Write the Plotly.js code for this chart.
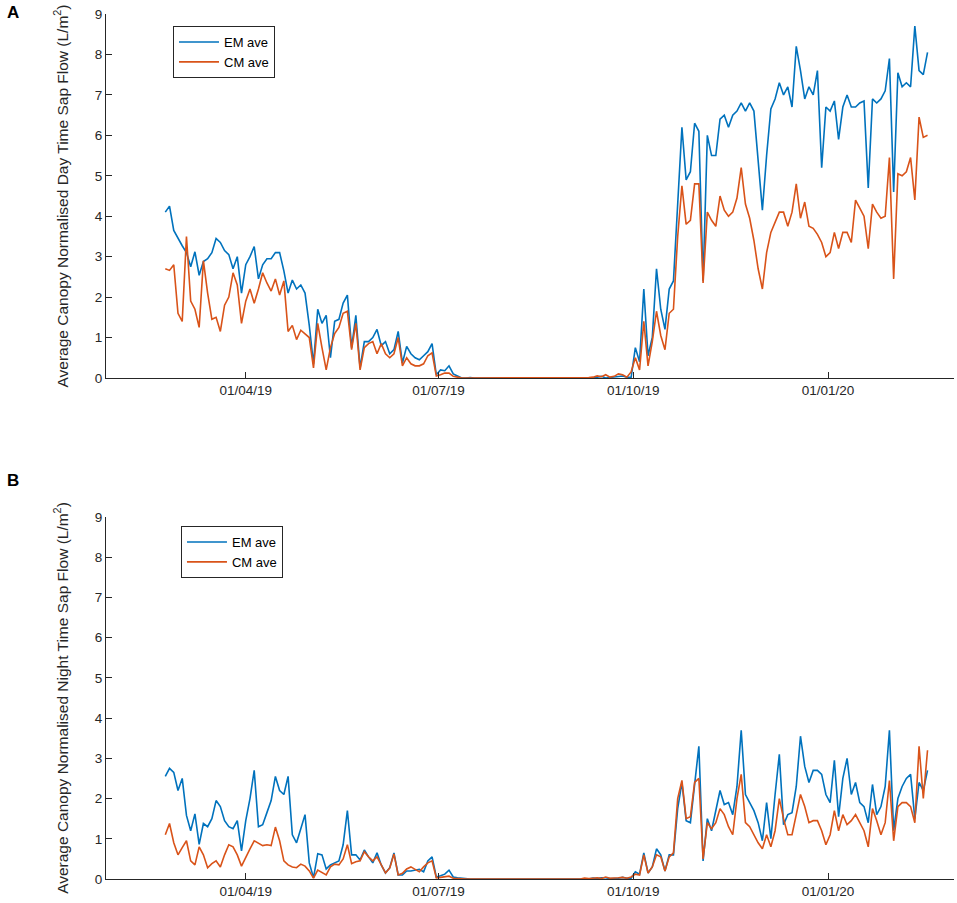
<!DOCTYPE html>
<html>
<head>
<meta charset="utf-8">
<script src="https://cdn.plot.ly/plotly-3.0.1.min.js"></script>
<style>
  html, body { margin: 0; padding: 0; background: #fff; }
  #chart { width: 957px; height: 903px; }
</style>
</head>
<body>
<div id="chart"></div>
<script>
/* Canopy normalised sap flow, EM vs CM averages.
 * One reading every second day from 22/02/19 to 17/02/20.
 * Panel A is day time, panel B night time.
 */

const START_DATE = "2019-02-22";
const STEP_DAYS = 2;

const TICK_DATES = ["2019-04-01", "2019-07-01", "2019-10-01", "2020-01-01"];
const TICK_LABELS = ["01/04/19", "01/07/19", "01/10/19", "01/01/20"];

// --- panel A, day time (L/m2) ---
const dayEM = [
  4.1, 4.25, 3.65, 3.45, 3.27, 3.1, 2.75, 3.12, 2.54, 2.88,
  2.95, 3.1, 3.45, 3.35, 3.15, 3.05, 2.7, 3.0, 2.1, 2.8,
  3.0, 3.25, 2.45, 2.8, 2.95, 2.95, 3.1, 3.1, 2.65, 2.1,
  2.42, 2.2, 2.3, 2.1, 1.3, 0.35, 1.7, 1.35, 1.55, 0.5,
  1.4, 1.45, 1.85, 2.05, 0.75, 1.55, 0.25, 0.9, 0.9, 1.0,
  1.2, 0.8, 0.9, 0.6, 0.7, 1.15, 0.37, 0.78, 0.6, 0.5,
  0.45, 0.55, 0.65, 0.85, 0.08, 0.2, 0.18, 0.3, 0.1, 0.05,
  0, 0, 0.01, 0, 0, 0, 0, 0.01, 0, 0,
  0, 0, 0, 0, 0.01, 0, 0, 0, 0, 0,
  0, 0, 0.01, 0, 0, 0, 0, 0, 0, 0.01,
  0, 0, 0.02, 0.04, 0, 0.01, 0.02, 0.03, 0.05, 0.02,
  0.01, 0.75, 0.4, 2.2, 0.55, 1.0, 2.7, 1.7, 1.2, 2.2,
  2.4, 4.3, 6.2, 4.9, 5.1, 6.3, 6.1, 2.4, 6.0, 5.5,
  5.5, 6.4, 6.5, 6.2, 6.5, 6.6, 6.8, 6.6, 6.8, 6.6,
  5.3, 4.15, 5.5, 6.65, 6.9, 7.3, 7.0, 7.2, 6.7, 8.2,
  7.6, 6.9, 7.2, 7.0, 7.6, 5.2, 6.7, 6.6, 6.85, 5.9,
  6.7, 7.0, 6.7, 6.7, 6.8, 6.85, 4.7, 6.9, 6.8, 6.9,
  7.1, 7.9, 4.6, 7.55, 7.2, 7.3, 7.2, 8.7, 7.6, 7.5,
  8.05
];
const dayCM = [
  2.7, 2.66, 2.8, 1.6, 1.4, 3.5, 1.9, 1.7, 1.25, 2.9,
  2.1, 1.45, 1.5, 1.15, 1.8, 2.0, 2.6, 2.3, 1.35, 1.9,
  2.2, 1.85, 2.2, 2.6, 2.35, 2.15, 2.45, 2.05, 2.4, 1.15,
  1.3, 0.95, 1.18, 1.1, 1.0, 0.25, 1.35, 0.75, 0.2, 0.75,
  1.1, 1.25, 1.6, 1.65, 0.7, 1.35, 0.2, 0.75, 0.85, 0.9,
  0.6, 0.85, 0.6, 0.5, 0.6, 1.0, 0.3, 0.5, 0.35, 0.3,
  0.3, 0.35, 0.55, 0.62, 0.05, 0.08, 0.12, 0.12, 0.04, 0.02,
  0, 0, 0, 0, 0.01, 0, 0, 0, 0, 0,
  0, 0, 0, 0, 0, 0, 0.01, 0, 0, 0,
  0, 0, 0, 0, 0, 0.01, 0, 0, 0, 0,
  0.01, 0.02, 0.05, 0.03, 0.08, 0.02, 0.04, 0.1, 0.08, 0.02,
  0.15, 0.5, 0.2, 1.4, 0.3, 0.9, 1.65, 1.05, 0.7, 1.6,
  1.7, 3.5, 4.75, 3.8, 3.9, 4.8, 4.8, 2.35, 4.1, 3.9,
  3.75, 4.5, 4.15, 4.0, 4.1, 4.45, 5.2, 4.3, 3.95, 3.4,
  2.7, 2.2, 3.1, 3.6, 3.85, 4.1, 4.1, 3.75, 4.1, 4.8,
  3.95, 4.35, 3.75, 3.7, 3.55, 3.35, 3.0, 3.1, 3.6, 3.2,
  3.6, 3.6, 3.35, 4.4, 4.2, 4.0, 3.2, 4.3, 4.1, 3.95,
  4.0, 5.45, 2.45, 5.05, 5.0, 5.1, 5.45, 4.4, 6.45, 5.95,
  6.0
];

// --- panel B, night time (L/m2) ---
const nightEM = [
  2.55, 2.75, 2.65, 2.2, 2.5, 1.58, 1.2, 1.62, 0.86, 1.38,
  1.3, 1.5, 1.95, 1.8, 1.45, 1.3, 1.25, 1.45, 0.7, 1.45,
  2.0, 2.7, 1.3, 1.35, 1.65, 1.95, 2.55, 2.2, 2.1, 2.55,
  1.1, 0.9, 1.25, 1.6, 0.4, 0.03, 0.63, 0.6, 0.25, 0.35,
  0.4, 0.45, 0.85, 1.7, 0.6, 0.6, 0.47, 0.72, 0.55, 0.4,
  0.65, 0.35, 0.15, 0.28, 0.65, 0.1, 0.1, 0.2, 0.2, 0.22,
  0.24, 0.18, 0.45, 0.55, 0.05, 0.08, 0.12, 0.22, 0.05, 0.03,
  0.02, 0, 0, 0, 0, 0.01, 0, 0, 0, 0,
  0, 0, 0, 0, 0, 0, 0, 0, 0, 0.01,
  0, 0, 0, 0, 0, 0, 0, 0, 0, 0.01,
  0, 0.02, 0.01, 0.03, 0.03, 0.01, 0.01, 0.02, 0.04, 0.02,
  0.02, 0.18, 0.12, 0.65, 0.15, 0.3, 0.75, 0.6, 0.2, 0.6,
  0.6, 1.75, 2.4, 1.45, 1.4, 2.42, 3.3, 0.45, 1.5, 1.2,
  1.75, 2.2, 1.85, 1.9, 1.6, 2.3, 3.7, 2.1, 1.9, 1.7,
  1.4, 0.95, 1.9, 1.0, 2.1, 3.1, 1.35, 1.6, 1.65, 2.3,
  3.55, 2.8, 2.4, 2.7, 2.7, 2.6, 2.1, 1.9, 2.95, 1.55,
  2.5, 3.0, 2.1, 2.4, 1.9, 1.8, 1.4, 2.35, 1.6, 1.8,
  2.3, 3.7, 1.2, 2.0, 2.3, 2.5, 2.6, 1.5, 2.4, 2.2,
  2.7
];
const nightCM = [
  1.1, 1.38, 0.9, 0.6, 0.78, 0.95, 0.45, 0.35, 0.8, 0.6,
  0.28, 0.38, 0.45, 0.3, 0.6, 0.85, 0.8, 0.6, 0.32, 0.55,
  0.75, 0.95, 0.88, 0.83, 0.85, 0.83, 1.29, 0.95, 0.45, 0.35,
  0.3, 0.28, 0.37, 0.32, 0.2, 0.02, 0.22, 0.15, 0.1, 0.3,
  0.37, 0.35, 0.5, 0.85, 0.38, 0.43, 0.45, 0.68, 0.55, 0.45,
  0.55, 0.35, 0.15, 0.27, 0.62, 0.1, 0.14, 0.25, 0.3, 0.24,
  0.18, 0.3, 0.4, 0.45, 0.03, 0.04, 0.06, 0.07, 0.02, 0.01,
  0, 0, 0, 0, 0, 0, 0, 0, 0, 0,
  0, 0, 0, 0, 0, 0, 0, 0, 0, 0,
  0, 0, 0, 0, 0, 0, 0, 0, 0, 0.02,
  0.01, 0.02, 0.03, 0.01, 0.05, 0.02, 0.02, 0.03, 0.04, 0.02,
  0.05, 0.12, 0.1, 0.6, 0.15, 0.3, 0.6, 0.55, 0.2, 0.55,
  0.65, 2.0, 2.45, 1.5, 1.55, 2.4, 2.5, 0.5, 1.4, 1.25,
  1.4, 1.75, 1.6, 1.3, 1.1, 2.0, 2.6, 1.4, 1.3, 1.1,
  0.9, 0.75, 1.1, 0.8, 1.2, 2.0, 1.5, 1.1, 1.1, 1.6,
  2.1, 1.8, 1.4, 1.45, 1.45, 1.2, 0.85, 1.1, 1.7, 1.2,
  1.6, 1.35, 1.45, 1.6, 1.4, 1.2, 0.8, 1.75, 1.45, 1.1,
  1.4, 2.45, 0.95, 1.8, 1.9, 1.9, 1.8, 1.4, 3.3, 2.0,
  3.2
];

(function () {
  "use strict";

  const EM_BLUE = "#0072BD";
  const CM_RED = "#D95319";
  const INK = "#262626";
  const FONT = "Liberation Sans, Arial, Helvetica, sans-serif";

  // every second day from the first reading
  const DAY_MS = 24 * 60 * 60 * 1000;
  const t0 = new Date(START_DATE + "T00:00:00Z").getTime();
  const dates = dayEM.map((_, i) =>
    new Date(t0 + i * STEP_DAYS * DAY_MS).toISOString().slice(0, 10)
  );

  function line(y, name, color, xa, ya, legend) {
    return {
      x: dates, y: y, name: name, type: "scatter", mode: "lines",
      line: { color: color, width: 1.6 },
      xaxis: xa, yaxis: ya, legend: legend,
    };
  }

  const traces = [
    line(dayEM, "EM ave", EM_BLUE, "x", "y", "legend"),
    line(dayCM, "CM ave", CM_RED, "x", "y", "legend"),
    line(nightEM, "EM ave", EM_BLUE, "x2", "y2", "legend2"),
    line(nightCM, "CM ave", CM_RED, "x2", "y2", "legend2"),
  ];

  // MATLAB-ish axes: box off, ticks pointing in, no grid
  function xAxis(anchor) {
    return {
      anchor: anchor, domain: [0, 1], type: "date",
      range: ["2019-01-25", "2020-02-29 12:00"],
      tickmode: "array", tickvals: TICK_DATES, ticktext: TICK_LABELS,
      ticks: "inside", ticklen: 6, tickcolor: INK,
      showline: true, linecolor: INK, linewidth: 1,
      showgrid: false, zeroline: false,
      tickfont: { family: FONT, size: 13.5, color: INK },
    };
  }
  function yAxis(anchor, domain, title) {
    // standoff puts the title centre ~44px left of the axis line
    return {
      anchor: anchor, domain: domain, range: [0, 9], dtick: 1,
      ticks: "inside", ticklen: 6, tickcolor: INK,
      showline: true, linecolor: INK, linewidth: 1,
      showgrid: false, zeroline: false,
      tickfont: { family: FONT, size: 13.5, color: INK },
      title: { text: title, font: { family: FONT, size: 15.5, color: INK }, standoff: 22 },
    };
  }
  function legendBox(x, y) {
    return {
      x: x, y: y, xanchor: "left", yanchor: "top",
      bgcolor: "#fff", bordercolor: INK, borderwidth: 1,
      font: { family: FONT, size: 13, color: "#000" },
      itemwidth: 40, tracegroupgap: 0,
    };
  }
  function panelLabel(text, y) {
    return {
      text: "<b>" + text + "</b>", xref: "paper", yref: "paper",
      x: -0.11, y: y, xanchor: "center", yanchor: "middle", showarrow: false,
      font: { family: FONT, size: 17, color: "#000" },
    };
  }

  const layout = {
    width: 957, height: 903,
    margin: { l: 106, r: 3, t: 10, b: 20 },
    paper_bgcolor: "#fff", plot_bgcolor: "#fff",
    font: { family: FONT, color: INK },
    xaxis: xAxis("y"),
    yaxis: yAxis("x", [0.5785, 0.9954],
      "Average Canopy Normalised Day Time Sap Flow (L/m<sup>2</sup>)"),
    xaxis2: xAxis("y2"),
    yaxis2: yAxis("x2", [0.0046, 0.4192],
      "Average Canopy Normalised Night Time Sap Flow (L/m<sup>2</sup>)"),
    legend: legendBox(0.079, 0.9817),
    legend2: legendBox(0.0884, 0.4089),
    annotations: [panelLabel("A", 0.9966), panelLabel("B", 0.4616)],
    showlegend: true,
  };

  Plotly.newPlot("chart", traces, layout, { displayModeBar: false, staticPlot: true });
})();
</script>
</body>
</html>
